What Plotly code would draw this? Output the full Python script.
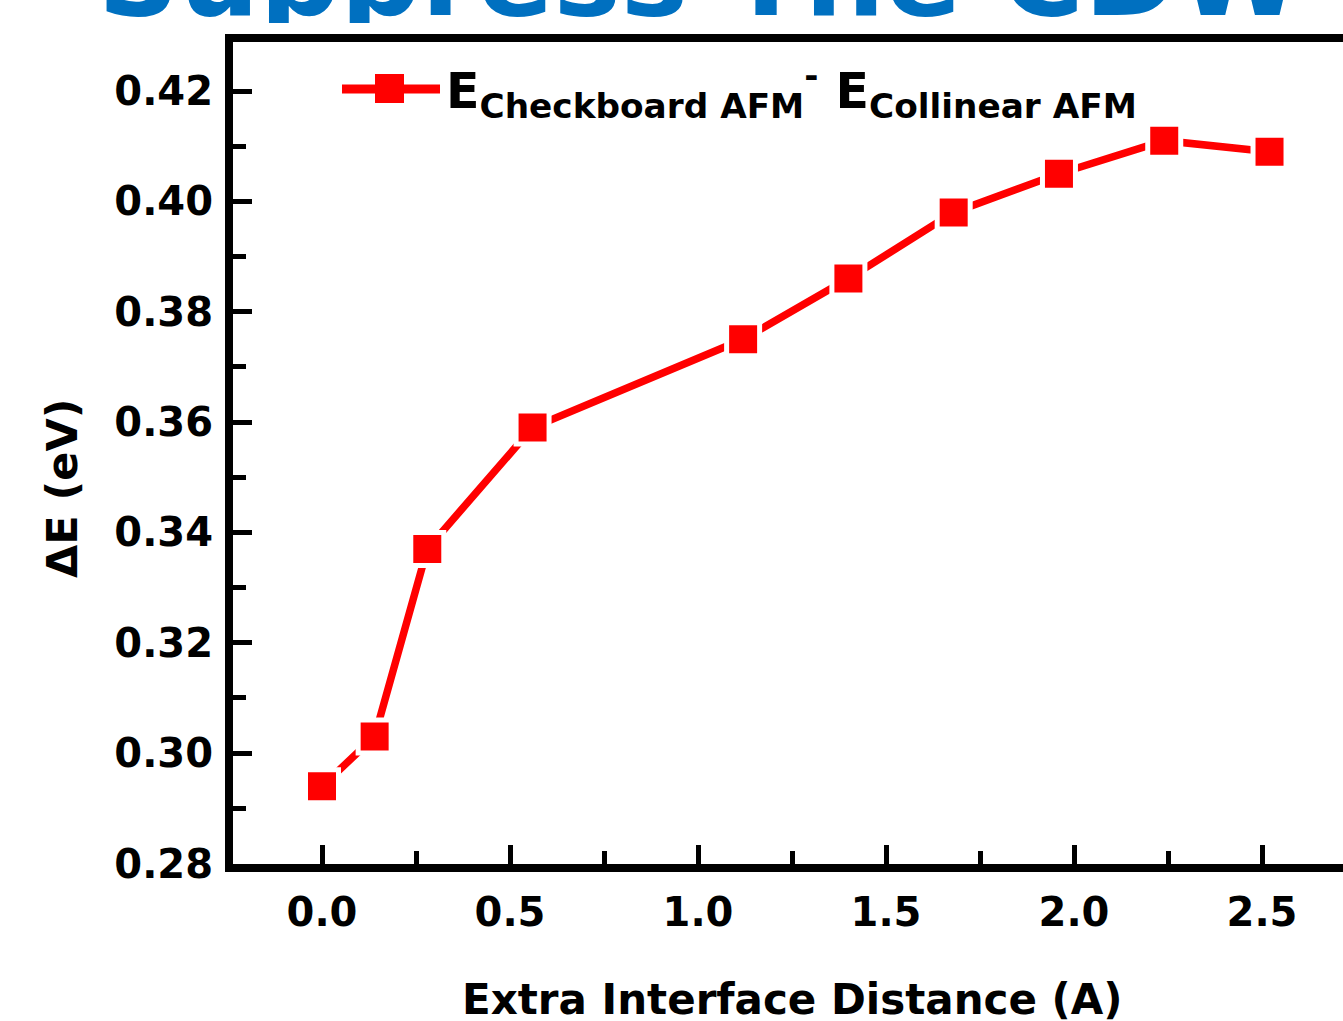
import plotly.graph_objects as go

W, H = 1343, 1021

# ---- data ----
distance = [0.0, 0.14, 0.28, 0.56, 1.12, 1.40, 1.68, 1.96, 2.24, 2.52]
delta_e = [0.294, 0.303, 0.337, 0.359, 0.375, 0.386, 0.398, 0.405, 0.411, 0.409]
x_title = "Extra Interface Distance (A)"
y_title = "ΔE (eV)"
legend_text = "E<sub>Checkboard AFM</sub><sup>-</sup> E<sub>Collinear AFM</sub>"
slide_title = "Suppress The CDW"

RED = "#FF0000"
BLUE = "#0070C0"
FONT = "DejaVu Sans"


def px(x):
    return x / W


def py(y):
    return 1 - y / H


# y scale: 0.28 at 863.5 px, 0.42 at 91 px
YSCALE = (863.5 - 91) / 0.14

fig = go.Figure()

fig.add_trace(go.Scatter(
    x=distance, y=delta_e, mode="lines+markers",
    line=dict(color=RED, width=7.5),
    marker=dict(symbol="square", size=33, color=RED,
                line=dict(color="white", width=5)),
    showlegend=False, hoverinfo="skip",
))

# slide title, clipped by a thin strip subplot at the top
fig.add_trace(go.Scatter(
    x=[700], y=[1 + 13 / 23], mode="text", text=[slide_title],
    textposition="middle center",
    textfont=dict(family=FONT, size=113, color=BLUE, weight="bold"),
    xaxis="x2", yaxis="y2", showlegend=False, hoverinfo="skip",
    cliponaxis=True,
))

tickfont = dict(family=FONT, size=40, color="black", weight="bold")

fig.update_layout(
    width=W, height=H,
    margin=dict(l=0, r=0, t=0, b=0, pad=0, autoexpand=False),
    paper_bgcolor="white", plot_bgcolor="white",
    xaxis=dict(
        domain=[px(233), 1.0],
        range=[(233 - 322) / 376, (1343 - 322) / 376],
        showgrid=False, zeroline=False, automargin=False,
        showline=True, linecolor="black", linewidth=8, mirror=True,
        ticks="inside", ticklen=19, tickwidth=5, tickcolor="black",
        tick0=0, dtick=0.5, tickformat=".1f",
        tickfont=tickfont, ticklabelstandoff=6,
        minor=dict(ticks="inside", ticklen=13, tickwidth=5,
                   tickcolor="black", dtick=0.25, tick0=0, showgrid=False),
        anchor="y",
    ),
    yaxis=dict(
        domain=[py(863.5), py(41.5)],
        range=[0.28, 0.42 + (91 - 41.5) / YSCALE],
        showgrid=False, zeroline=False, automargin=False,
        showline=True, linecolor="black", linewidth=8, mirror=False,
        ticks="inside", ticklen=19, tickwidth=5, tickcolor="black",
        tick0=0.28, dtick=0.02, tickformat=".2f",
        tickfont=tickfont, ticklabelstandoff=4,
        minor=dict(ticks="inside", ticklen=13, tickwidth=5,
                   tickcolor="black", dtick=0.01, tick0=0.28, showgrid=False),
        anchor="x",
    ),
    xaxis2=dict(domain=[0, 1], range=[0, W], visible=False, anchor="y2",
                fixedrange=True, automargin=False),
    yaxis2=dict(domain=[py(23), 1], range=[0, 1], visible=False, anchor="x2",
                fixedrange=True, automargin=False),
    shapes=[
        dict(type="line", xref="paper", yref="paper",
             x0=px(342), x1=px(440), y0=py(89), y1=py(89),
             line=dict(color=RED, width=9)),
        dict(type="rect", xref="paper", yref="paper",
             x0=px(375), x1=px(404), y0=py(103), y1=py(74),
             fillcolor=RED, line=dict(width=0)),
    ],
    annotations=[
        dict(text=legend_text, xref="paper", yref="paper",
             x=px(444), y=py(91), xanchor="left", yanchor="middle",
             showarrow=False,
             font=dict(family=FONT, size=49, color="black", weight="bold")),
        dict(text=x_title, xref="paper", yref="paper",
             x=px(792), y=py(999), xanchor="center", yanchor="middle",
             showarrow=False,
             font=dict(family=FONT, size=42, color="black", weight="bold")),
        dict(text=y_title, xref="paper", yref="paper",
             x=px(62), y=py(489), xanchor="center", yanchor="middle",
             textangle=-90, showarrow=False,
             font=dict(family=FONT, size=43, color="black", weight="bold")),
    ],
)

fig.write_html("out.html")
